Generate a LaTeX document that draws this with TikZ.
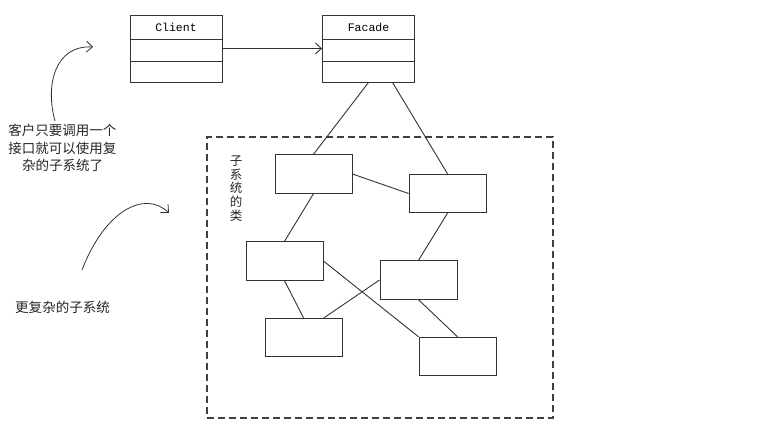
\documentclass[tikz,border=0pt]{standalone}
\usepackage{fontspec}
\newfontfamily\cjk{Noto Sans CJK SC}
\newfontfamily\monof{Liberation Mono}
\usetikzlibrary{arrows.meta}
\tikzset{
  every picture/.style={x=1pt,y=-1pt},
  ln/.style={draw=black!80,line width=0.9pt},
  classbox/.style={ln,rectangle,minimum width=92pt,minimum height=67pt,inner sep=0pt},
  classname/.style={font=\monof\fontsize{11.5}{13}\selectfont,inner sep=0pt},
  subbox/.style={ln,rectangle,minimum width=77pt,minimum height=38.5pt,inner sep=0pt},
  cntext/.style={font=\cjk\fontsize{13.5}{17.5}\selectfont,align=center,inner sep=0pt,text=black!85},
  barb/.style={-{Straight Barb[length=6pt,width=11pt]}},
}
\begin{document}
\begin{tikzpicture}
\fill[white] (0,0) rectangle (779,443);
\useasboundingbox (0,0) rectangle (779,443);
% class boxes
\node[classbox] (client) at (176,48.5) {};
\node[classbox] (facade) at (368.5,48.5) {};
\node[classname] (clientname) at (176,27) {Client};
\node[classname] (facadename) at (368.5,27) {Facade};
\draw[ln] (client.west |- 0,39) -- (client.east |- 0,39);
\draw[ln] (client.west |- 0,61) -- (client.east |- 0,61);
\draw[ln] (facade.west |- 0,39) -- (facade.east |- 0,39);
\draw[ln] (facade.west |- 0,61) -- (facade.east |- 0,61);
\draw[ln,barb] (client.east) -- (facade.west);
% subsystem
\node[draw=black!75,line width=1.1pt,dash pattern=on 7pt off 4pt,rectangle,minimum width=346pt,minimum height=281pt,inner sep=0pt] (sys) at (380,277.5) {};
\node[cntext,font=\cjk\fontsize{12.5}{13.6}\selectfont] (syslabel) at (236,188.5) {子\\系\\统\\的\\类};
\node[subbox] (A) at (313.5,174) {};
\node[subbox] (B) at (447.5,193.5) {};
\node[subbox] (C) at (284.5,261) {};
\node[subbox] (D) at (418.5,280) {};
\node[subbox] (E) at (303.5,337.5) {};
\node[subbox] (F) at (457.5,356.5) {};
\draw[ln] (facade.south) -- (A.north);
\draw[ln] ([xshift=24pt]facade.south) -- (B.north);
\draw[ln] (A.east) -- (B.west);
\draw[ln] (A.south) -- (C.north);
\draw[ln] (B.south) -- (D.north);
\draw[ln] (C.south) -- (E.north);
\draw[ln] (C.east) -- (F.north west);
\draw[ln] (D.west) -- ([xshift=20.5pt]E.north);
\draw[ln] (D.south) -- (F.north);
% annotations
\node[cntext] (note1) at (62.5,148) {客户只要调用一个\\接口就可以使用复\\杂的子系统了};
\node[cntext] (note2) at (62.5,307) {更复杂的子系统};
\coordinate (a1s) at (55,121);
\coordinate (a1e) at (93,47);
\coordinate (a2s) at (82,270);
\coordinate (a2e) at (169,213);
\draw[ln,line width=0.8pt,barb] (a1s) .. controls (45,85) and (55,45) .. (a1e);
\draw[ln,line width=0.8pt,barb] (a2s) .. controls (105,210) and (145,190) .. (a2e);
\end{tikzpicture}
\end{document}
